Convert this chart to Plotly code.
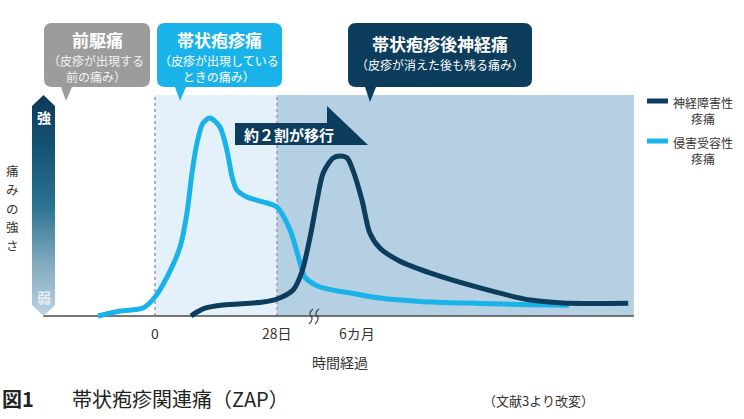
import plotly.graph_objects as go

W, H = 744, 419
FONT = "Noto Sans CJK JP"

# ---------------- data ----------------
time_nociceptive = [-13.1, -8.0, -2.75, 0.0, 2.75, 5.74, 7.34, 8.49, 9.64, 11.0, 12.6, 14.9,
                    16.5, 17.7, 18.8, 21.1, 24.8, 28.0, 31.0, 33.3, 34.4, 37.9, 44.8, 51.6,
                    60.8, 74.6, 86.1, 95.0]
pain_nociceptive = [0.0, 2.3, 3.6, 8.6, 17.6, 31.2, 46.6, 64.7, 78.3, 87.3, 89.6, 85.5,
                    75.1, 62.9, 57.0, 53.8, 51.6, 49.3, 38.9, 24.0, 17.6, 13.1, 10.4, 8.1,
                    6.6, 5.7, 5.1, 4.9]

time_neuropathic = [8.26, 9.64, 11.5, 15.6, 24.8, 28.0, 31.7, 33.7, 35.6, 37.2, 38.6, 40.9,
                    42.5, 44.1, 45.4, 47.5, 49.3, 51.6, 56.0, 63.1, 74.6, 86.1, 93.6, 101.0,
                    108.6]
pain_neuropathic = [0.0, 1.8, 3.6, 5.0, 6.3, 7.7, 11.8, 19.9, 35.7, 52.5, 64.7, 71.5,
                    72.4, 71.5, 66.1, 52.5, 37.6, 30.8, 25.0, 19.5, 12.7, 7.2, 5.9, 5.7,
                    5.8]

tick_vals = [0, 28, 46.4]
tick_text = ["0", "28日", "6カ月"]

phase_bounds = [0, 28, 109.9]   # 帯状疱疹痛 phase, 帯状疱疹後神経痛 phase
pain_max = 100
baseline_span = [-25.7, 109.9]

series_names = ["神経障害性<br>疼痛", "侵害受容性<br>疼痛"]
y_title_chars = ["痛", "み", "の", "強", "さ"]

# ---------------- scales (pixel layout) ----------------
PX_PER_T = 122 / 28
T0_PX = 155
PX_PER_V = 2.21
V0_PX = 316
x_range = [(0 - T0_PX) / PX_PER_T, (W - T0_PX) / PX_PER_T]
y_range = [(V0_PX - H) / PX_PER_V, V0_PX / PX_PER_V]

DARK = "#0c3d5c"
CYAN = "#1ab3e9"
GRAY = "#9c9c9c"
TXT = "#333333"


def px(x):
    return x / W


def py(y):
    return 1 - y / H


def callout_path(x0, y0, x1, y1, r, bx0, bx1, tx, ty):
    pts = []
    pts.append(f"M {px(x0 + r)} {py(y0)}")
    pts.append(f"L {px(x1 - r)} {py(y0)}")
    pts.append(f"Q {px(x1)} {py(y0)} {px(x1)} {py(y0 + r)}")
    pts.append(f"L {px(x1)} {py(y1 - r)}")
    pts.append(f"Q {px(x1)} {py(y1)} {px(x1 - r)} {py(y1)}")
    pts.append(f"L {px(bx1)} {py(y1)}")
    pts.append(f"L {px(tx)} {py(ty)}")
    pts.append(f"L {px(bx0)} {py(y1)}")
    pts.append(f"L {px(x0 + r)} {py(y1)}")
    pts.append(f"Q {px(x0)} {py(y1)} {px(x0)} {py(y1 - r)}")
    pts.append(f"L {px(x0)} {py(y0 + r)}")
    pts.append(f"Q {px(x0)} {py(y0)} {px(x0 + r)} {py(y0)} Z")
    return " ".join(pts)


def poly_path(points):
    s = "M " + " L ".join(f"{px(a)} {py(b)}" for a, b in points) + " Z"
    return s


fig = go.Figure()

# gradient intensity bar (decoration on pixel overlay axes)
bar_pts = [(32, 106), (43.5, 95), (55, 106), (55, 305), (43.5, 316), (32, 305), (32, 106)]
fig.add_trace(go.Scatter(
    x=[p[0] for p in bar_pts], y=[H - p[1] for p in bar_pts],
    xaxis="x2", yaxis="y2", mode="lines", line=dict(width=0), fill="toself",
    fillgradient=dict(type="vertical",
                      colorscale=[[0, "#bdd2e1"], [0.25, "#7fa7bd"], [0.5, "#2a7290"],
                                  [0.75, "#155575"], [1, "#0c3857"]]),
    hoverinfo="skip", showlegend=False))

# curves
fig.add_trace(go.Scatter(x=time_nociceptive, y=pain_nociceptive, mode="lines",
                         line=dict(color=CYAN, width=5, shape="spline", smoothing=0.8),
                         name=series_names[1], showlegend=False, cliponaxis=False))
fig.add_trace(go.Scatter(x=time_neuropathic, y=pain_neuropathic, mode="lines",
                         line=dict(color=DARK, width=5, shape="spline", smoothing=0.8),
                         name=series_names[0], showlegend=False, cliponaxis=False))

shapes = []
# phase regions
shapes.append(dict(type="rect", xref="x", yref="y", x0=phase_bounds[0], x1=phase_bounds[1],
                   y0=0, y1=pain_max, fillcolor="#e4f1fa", line=dict(width=0), layer="below"))
shapes.append(dict(type="rect", xref="x", yref="y", x0=phase_bounds[1], x1=phase_bounds[2],
                   y0=0, y1=pain_max, fillcolor="#b4d0e2", line=dict(width=0), layer="below"))
for xv in phase_bounds[:2]:
    shapes.append(dict(type="line", xref="x", yref="y", x0=xv, x1=xv, y0=0, y1=pain_max,
                       line=dict(color="#9a9a9a", width=1.5, dash="dot"), layer="below"))
# baseline
shapes.append(dict(type="line", xref="x", yref="y", x0=baseline_span[0], x1=baseline_span[1],
                   y0=0, y1=0, line=dict(color="#4a4a4a", width=1.5), layer="below"))
# break marks
for bx in (311, 317):
    shapes.append(dict(type="path", xref="paper", yref="paper",
                       path=f"M {px(bx + 2)} {py(309)} Q {px(bx - 3)} {py(313)} {px(bx)} {py(316)} "
                            f"Q {px(bx + 3)} {py(319)} {px(bx - 2)} {py(324)}",
                       line=dict(color="#444444", width=1.2)))
# callouts
shapes.append(dict(type="path", xref="paper", yref="paper",
                   path=callout_path(44, 23, 150, 87, 8, 61, 72, 66, 101),
                   fillcolor=GRAY, line=dict(width=0)))
shapes.append(dict(type="path", xref="paper", yref="paper",
                   path=callout_path(157, 23, 282, 87, 8, 175, 186, 180, 101),
                   fillcolor=CYAN, line=dict(width=0)))
shapes.append(dict(type="path", xref="paper", yref="paper",
                   path=callout_path(348, 23, 532, 87, 8, 365, 376, 370, 102),
                   fillcolor=DARK, line=dict(width=0)))
# transition arrow
shapes.append(dict(type="path", xref="paper", yref="paper",
                   path=poly_path([(235, 123), (327, 123), (327, 106), (368, 145), (235, 145)]),
                   fillcolor=DARK, line=dict(width=0)))
# legend lines
shapes.append(dict(type="line", xref="paper", yref="paper", x0=px(647), x1=px(668),
                   y0=py(101), y1=py(101), line=dict(color=DARK, width=5)))
shapes.append(dict(type="line", xref="paper", yref="paper", x0=px(647), x1=px(668),
                   y0=py(141), y1=py(141), line=dict(color=CYAN, width=5)))

ann = []


def txt(text, x, y, size, color=TXT, bold=False, xanchor="center", family=FONT):
    ann.append(dict(text=f"<b>{text}</b>" if bold else text, x=px(x), y=py(y),
                    xref="paper", yref="paper", xanchor=xanchor, yanchor="middle",
                    showarrow=False, font=dict(family=family, size=size, color=color)))


# callout texts
txt("前駆痛", 97, 40, 17, "white", True)
txt("（皮疹が出現する<br>前の痛み）", 96, 68.5, 12, "#f2f2f2")
txt("帯状疱疹痛", 219, 40, 17, "white", True)
txt("（皮疹が出現している<br>ときの痛み）", 219, 68.5, 12, "white")
txt("帯状疱疹後神経痛", 440, 43, 17, "white", True)
txt("（皮疹が消えた後も残る痛み）", 440, 64, 12, "white")
# arrow text
txt("約２割が移行", 289, 134, 15, "white", True)
# intensity bar
txt("強", 44, 117, 14, "white", True)
txt("弱", 44, 297, 14, "#e6eef4", True)
# vertical axis title, one character per row
for i, ch in enumerate(y_title_chars):
    txt(ch, 13, 171 + i * 18.5, 12.5, TXT)
# legend
txt("神経障害性<br>疼痛", 671, 110, 12, TXT, xanchor="left")
txt("侵害受容性<br>疼痛", 671, 150, 12, TXT, xanchor="left")
# x tick labels via data x scale
for tv, tt in zip(tick_vals, tick_text):
    ann.append(dict(text=tt, x=tv, y=py(333), xref="x", yref="paper", showarrow=False,
                    xanchor="center", yanchor="middle",
                    font=dict(family=FONT, size=14, color=TXT)))
txt("時間経過", 340, 362, 14, TXT)
# caption
txt("図1", 0, 398, 20, "#222222", True, xanchor="left")
txt("帯状疱疹関連痛（ZAP）", 70, 398, 20, "#222222", xanchor="left")
txt("（文献3より改変）", 481, 400, 13, "#333333", xanchor="left")

fig.update_layout(
    width=W, height=H, margin=dict(l=0, r=0, t=0, b=0),
    paper_bgcolor="white", plot_bgcolor="white",
    xaxis=dict(range=x_range, visible=False, fixedrange=True),
    yaxis=dict(range=y_range, visible=False, fixedrange=True),
    xaxis2=dict(range=[0, W], overlaying="x", visible=False),
    yaxis2=dict(range=[0, H], overlaying="y", visible=False),
    shapes=shapes, annotations=ann, showlegend=False,
)

fig.write_html("out.html")
